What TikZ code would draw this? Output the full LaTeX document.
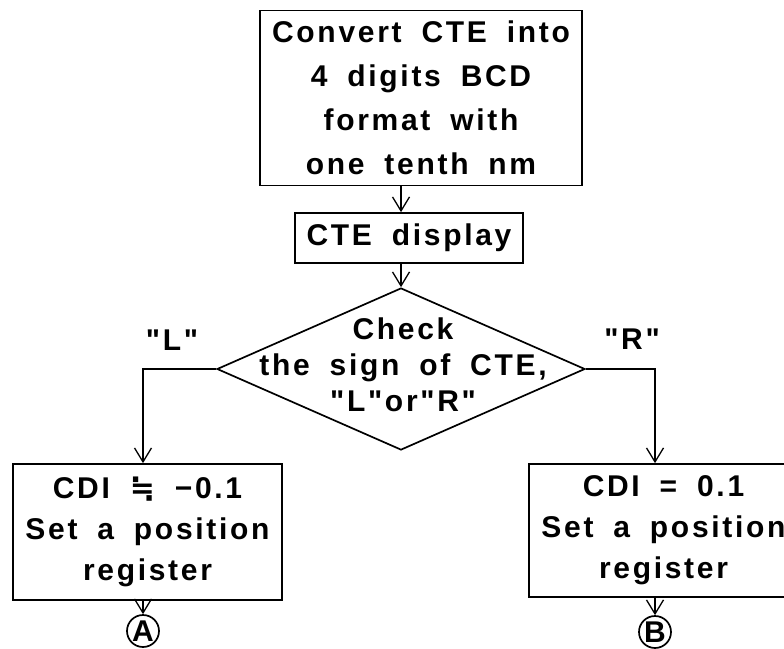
\documentclass[tikz,border=0pt]{standalone}
\usepackage{fontspec}
\setmainfont{Liberation Sans}
\newfontfamily\lab[LetterSpace=9,WordSpace=1.8]{Liberation Sans}
\newfontfamily\sym{DejaVu Sans}
\usetikzlibrary{arrows.meta,shapes.geometric}
\newcommand{\apx}{{\sym\bfseries ≒}}
\begin{document}
\begin{tikzpicture}[x=1pt,y=-1pt,line width=1.7pt,
  box/.style={draw,rectangle,inner sep=0pt,align=center,
    font=\lab\bfseries\fontsize{30}{44}\selectfont},
  txt/.style={align=center,inner sep=0pt,
    font=\lab\bfseries\fontsize{30}{36}\selectfont},
  arr/.style={-{Straight Barb[length=14pt,width=17pt,line width=1.3pt]}},
  conn/.style={draw,circle,minimum size=32pt,inner sep=0pt}]
\useasboundingbox (0,0) rectangle (784,648);
\clip (0,0) rectangle (784,648);
\node[box,minimum width=322pt,minimum height=175pt] (top) at (421,98)
  {Convert CTE into\\4 digits BCD\\format with\\one tenth nm};
\node[box,minimum width=228pt,minimum height=50pt] (disp) at (409,238)
  {CTE display};
\node[draw,diamond,minimum width=368pt,minimum height=162pt,inner sep=0pt] (dia) at (401,369) {};
\node[txt] (diat) at (403,365) {Check\\the sign of CTE,\\"L"or"R"};
\node[txt] (lL) at (172,340) {"L"};
\node[txt] (lR) at (632,339) {"R"};
\node[box,minimum width=269pt,minimum height=136pt,
  font=\lab\bfseries\fontsize{30}{41}\selectfont] (lbox) at (147.5,532)
  {CDI \apx\ −0.1\\Set a position\\register};
\node[box,minimum width=269pt,minimum height=133pt,
  font=\lab\bfseries\fontsize{30}{41}\selectfont] (rbox) at (663.5,530.5)
  {CDI = 0.1\\Set a position\\register};
\node[conn] (A) at (143,631) {\fontsize{30}{30}\selectfont\bfseries A};
\node[conn] (B) at (655,632) {\fontsize{30}{30}\selectfont\bfseries B};
\draw[arr] (top.south -| dia.north) -- (disp.north -| dia.north);
\draw[arr] (disp.south -| dia.north) -- (dia.north);
\draw[arr] (dia.west) -| (lbox.north -| A);
\draw[arr] (dia.east) -| (rbox.north -| B);
\draw[arr] (lbox.south -| A) -- (A.north);
\draw[arr] (rbox.south -| B) -- (B.north);
\end{tikzpicture}
\end{document}
